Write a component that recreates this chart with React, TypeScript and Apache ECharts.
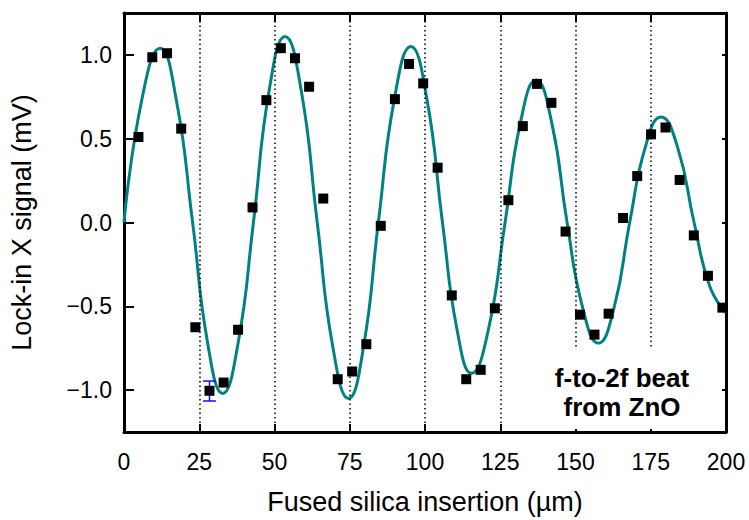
import React, { useEffect, useRef } from "react";
import * as echarts from "echarts";

// ---- data ----
const xTicks = [0, 25, 50, 75, 100, 125, 150, 175, 200];
const yTicks = [-1.0, -0.5, 0, 0.5, 1.0];
const gridLinesFull = [25, 50, 75, 100, 125];
const gridLinesShort = [150, 175];
const shortLineBottom = -0.74;

const insertion = [
  4.8, 9.4, 14.3, 19.0, 23.7, 28.4, 33.1, 37.9, 42.7, 47.3, 52.1, 56.8, 61.5, 66.2,
  71.0, 75.8, 80.5, 85.3, 90.0, 94.7, 99.4, 104.2, 108.9, 113.7, 118.5, 123.2, 127.7,
  132.5, 137.2, 142.0, 146.7, 151.5, 156.3, 161.0, 165.8, 170.5, 175.1, 179.9, 184.6,
  189.3, 194.0, 198.8,
];
const signal = [
  0.51, 0.986, 1.01, 0.56, -0.625, -1.004, -0.955, -0.64, 0.09, 0.73, 1.04, 0.98, 0.81,
  0.143, -0.935, -0.889, -0.726, -0.02, 0.736, 0.946, 0.83, 0.327, -0.435, -0.935,
  -0.879, -0.512, 0.133, 0.575, 0.827, 0.714, -0.054, -0.55, -0.669, -0.544, 0.027,
  0.277, 0.526, 0.567, 0.254, -0.077, -0.318, -0.508,
];

// fitted curve (zero crossings, extrema and points between)
const fitX = [
  0, 6.0, 12.0, 17.4, 22.8, 27.8, 32.8, 37.9, 43.0, 48.25, 53.5, 58.85, 64.2, 69.4, 74.6,
  79.55, 84.5, 89.9, 95.3, 100.55, 105.8, 110.65, 115.5, 121.05, 126.6, 131.75, 136.9,
  142.05, 147.2, 152.4, 157.6, 162.8, 168.0, 173.2, 178.4, 183.9, 189.4, 194.6, 200,
];
const fitY = [
  0, 0.74, 1.04, 0.73, 0, -0.72, -1.02, -0.72, 0, 0.79, 1.11, 0.79, 0, -0.745, -1.05,
  -0.745, 0, 0.745, 1.05, 0.745, 0, -0.64, -0.9, -0.64, 0, 0.6, 0.85, 0.6, 0, -0.51,
  -0.72, -0.51, 0, 0.45, 0.63, 0.45, 0, -0.38, -0.54,
];

const errX = [28.4];
const errLow = [-1.065];
const errHigh = [-0.946];

const FONT = '"Liberation Sans", Arial, Helvetica, sans-serif';
const TEAL = "#008282";

export default function App() {
  const ref = useRef<HTMLDivElement>(null);

  useEffect(() => {
    document.body.style.margin = "0";
    if (!ref.current) return;
    const chart = echarts.init(ref.current, undefined, { renderer: "svg" });

    const fmt = (v: number) => (v < 0 ? "\u2212" : "") + Math.abs(v).toFixed(1);

    const option: any = {
      animation: false,
      backgroundColor: "#ffffff",
      grid: { left: 124, right: 23, top: 13, bottom: 88 },
      xAxis: [
        {
          type: "value",
          position: "bottom",
          min: 0,
          max: 200,
          interval: 25,
          axisLine: { show: true, onZero: false, lineStyle: { color: "#000", width: 3 } },
          axisTick: {
            show: true,
            inside: true,
            length: 8,
            lineStyle: { color: "#000", width: 2 },
            customValues: xTicks.filter((v) => !gridLinesShort.includes(v)),
          },
          axisLabel: {
            customValues: xTicks,
            fontSize: 23,
            fontFamily: FONT,
            color: "#000",
            margin: 18,
          },
          splitLine: { show: false },
          name: "Fused silica insertion (\u00b5m)",
          nameLocation: "middle",
          nameGap: 56,
          nameTextStyle: { fontSize: 27, fontFamily: FONT, color: "#000" },
        },
        {
          type: "value",
          position: "top",
          min: 0,
          max: 200,
          interval: 25,
          axisLine: { show: true, onZero: false, lineStyle: { color: "#000", width: 3 } },
          axisTick: {
            show: true,
            inside: true,
            length: 9,
            lineStyle: { color: "#000", width: 2 },
            customValues: xTicks,
          },
          axisLabel: { show: false },
          splitLine: { show: false },
        },
        {
          type: "value",
          position: "bottom",
          min: 0,
          max: 200,
          interval: 25,
          axisLine: { show: false, onZero: false },
          axisTick: {
            show: true,
            inside: true,
            length: 3,
            lineStyle: { color: "#000", width: 2 },
            customValues: gridLinesShort,
          },
          axisLabel: { show: false },
          splitLine: { show: false },
        },
      ],
      yAxis: [
        {
          type: "value",
          position: "left",
          min: -1.25,
          max: 1.25,
          axisLine: { show: true, onZero: false, lineStyle: { color: "#000", width: 3 } },
          axisTick: {
            show: true,
            inside: true,
            length: 10,
            lineStyle: { color: "#000", width: 2 },
            customValues: yTicks,
          },
          axisLabel: {
            customValues: yTicks,
            formatter: fmt,
            fontSize: 23,
            fontFamily: FONT,
            color: "#000",
            margin: 12,
          },
          splitLine: { show: false },
          name: "Lock-in X signal (mV)",
          nameLocation: "middle",
          nameGap: 89,
          nameTextStyle: { fontSize: 27, fontFamily: FONT, color: "#000" },
        },
        {
          type: "value",
          position: "right",
          min: -1.25,
          max: 1.25,
          axisLine: { show: true, onZero: false, lineStyle: { color: "#000", width: 3 } },
          axisTick: {
            show: true,
            inside: true,
            length: 4,
            lineStyle: { color: "#000", width: 2 },
            customValues: yTicks,
          },
          axisLabel: { show: false },
          splitLine: { show: false },
        },
      ],
      series: [
        {
          type: "line",
          data: [],
          z: 1,
          markLine: {
            silent: true,
            symbol: "none",
            label: { show: false },
            lineStyle: { color: "#000", type: [1.5, 3], width: 1.5 },
            data: [
              ...gridLinesFull.map((x) => [{ coord: [x, -1.25] }, { coord: [x, 1.25] }]),
              ...gridLinesShort.map((x) => [
                { coord: [x, shortLineBottom] },
                { coord: [x, 1.25] },
              ]),
            ],
          },
        },
        {
          type: "line",
          data: fitX.map((x, i) => [x, fitY[i]]),
          smooth: 0.5,
          showSymbol: false,
          lineStyle: { color: TEAL, width: 3 },
          z: 2,
        },
        {
          type: "custom",
          data: errX.map((x, i) => [x, errLow[i], errHigh[i]]),
          z: 3,
          renderItem: (params: any, api: any) => {
            const x = api.value(0);
            const lo = api.coord([x, api.value(1)]);
            const hi = api.coord([x, api.value(2)]);
            const hw = 6.5;
            const style = { stroke: "#1010ff", lineWidth: 1.5 };
            return {
              type: "group",
              children: [
                { type: "line", shape: { x1: lo[0], y1: lo[1], x2: hi[0], y2: hi[1] }, style },
                { type: "line", shape: { x1: lo[0] - hw, y1: lo[1], x2: lo[0] + hw, y2: lo[1] }, style },
                { type: "line", shape: { x1: hi[0] - hw, y1: hi[1], x2: hi[0] + hw, y2: hi[1] }, style },
              ],
            };
          },
        },
        {
          type: "scatter",
          data: insertion.map((x, i) => [x, signal[i]]),
          symbol: "rect",
          symbolSize: 10,
          itemStyle: { color: "#000", opacity: 1 },
          z: 4,
        },
      ],
      graphic: [
        {
          type: "text",
          x: 622,
          y: 392,
          z: 10,
          style: {
            text: "f-to-2f beat\nfrom ZnO",
            align: "center",
            verticalAlign: "middle",
            fontSize: 26,
            fontWeight: "bold",
            fontFamily: FONT,
            lineHeight: 29,
            fill: "#000",
          },
        },
      ],
    };

    chart.setOption(option);
    return () => chart.dispose();
  }, []);

  return <div ref={ref} style={{ width: 749, height: 520 }} />;
}
